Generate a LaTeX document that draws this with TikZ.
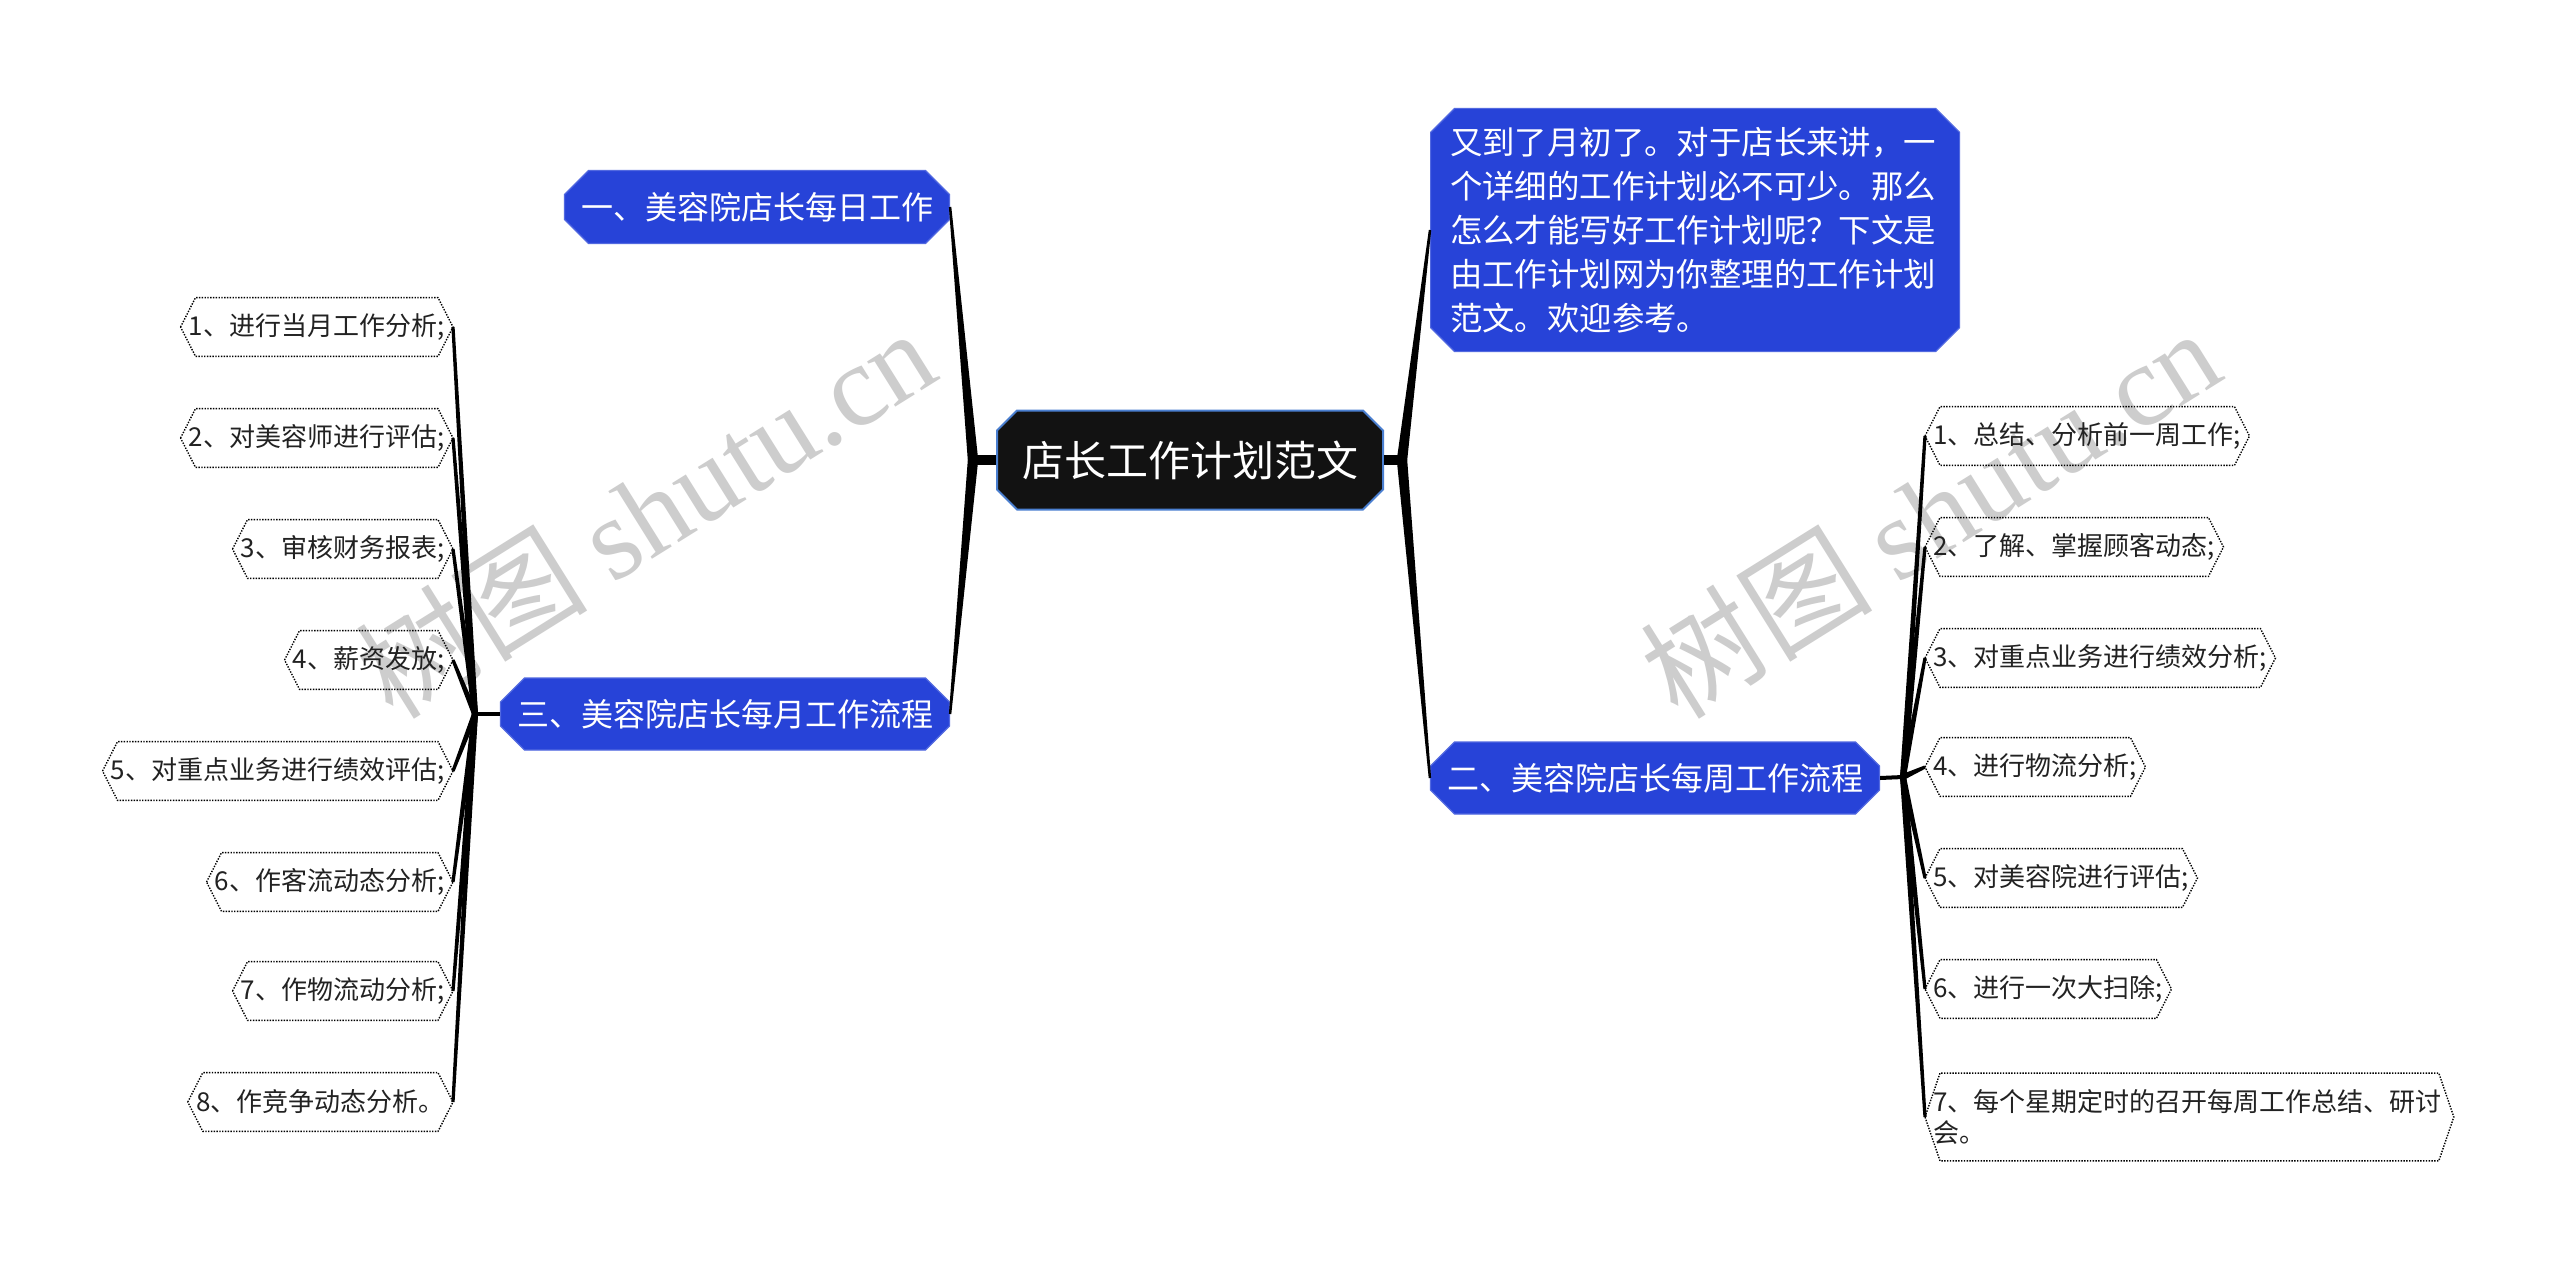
\documentclass[tikz,border=0pt]{standalone}
\usepackage{fontspec}
\setmainfont{Noto Sans CJK SC}
\newfontfamily\wmserif{Liberation Serif}
\usetikzlibrary{shapes.misc,calc}
\definecolor{nodeblue}{HTML}{2743D8}
\definecolor{rootborder}{HTML}{4A7FD0}
\definecolor{wmgray}{HTML}{CDCDCD}
\definecolor{leaftext}{HTML}{222222}
\newcommand\taperline[4]{%
  \fill[black] ($(#1)!#3!90:(#2)$) -- ($(#2)!#4!-90:(#1)$) -- ($(#2)!#4!90:(#1)$) -- ($(#1)!#3!-90:(#2)$) -- cycle;}
\begin{document}
\begin{tikzpicture}[x=0.5pt,y=-0.5pt,
  rootbox/.style={chamfered rectangle, chamfered rectangle xsep=5pt, chamfered rectangle ysep=5pt,
    fill=black!93, draw=rootborder, line width=1pt, text=white,
    font=\fontsize{21}{25}\selectfont, minimum width=193pt, minimum height=49.5pt, inner sep=0pt},
  mainbox/.style={chamfered rectangle, chamfered rectangle xsep=6pt, chamfered rectangle ysep=6pt,
    fill=nodeblue, draw=nodeblue!80!white, line width=0.6pt, text=white,
    font=\fontsize{16}{19}\selectfont, inner sep=0pt},
  introbox/.style={chamfered rectangle, chamfered rectangle xsep=6pt, chamfered rectangle ysep=6pt,
    fill=nodeblue, draw=nodeblue!80!white, line width=0.6pt, text=white,
    font=\fontsize{16.2}{22}\selectfont, align=left, text width=245pt,
    inner xsep=3.75pt, minimum height=121pt},
  leaf/.style={inner xsep=0pt, inner ysep=0pt, minimum height=29pt, text=leaftext,
    font=\fontsize{13}{15.5}\selectfont},
  leafline/.style={draw=black, line width=0.7pt, dash pattern=on 0.7pt off 0.7pt},
  wm/.style={text=wmgray, font=\fontsize{58}{62}\selectfont, inner sep=0pt}
]
\useasboundingbox (0,0) rectangle (2560,1269);
\fill[white] (0,0) rectangle (2560,1269);

% watermarks
\node[wm, rotate=32] (wm1) at (645,512) {树图 {\wmserif shutu.cn}};
\node[wm, rotate=32] (wm2) at (1930,512) {树图 {\wmserif shutu.cn}};

% main nodes
\node[rootbox] (root) at (1190,460) {店长工作计划范文};
\node[mainbox, minimum width=192.5pt, minimum height=36.5pt] (b1) at (757,207) {一、美容院店长每日工作};
\node[mainbox, minimum width=224.5pt, minimum height=36pt] (b3) at (725,714) {三、美容院店长每月工作流程};
\node[mainbox, minimum width=224.5pt, minimum height=36pt] (b2) at (1655,778) {二、美容院店长每周工作流程};
\node[introbox, anchor=west] (intro) at (1430,230) {又到了月初了。对于店长来讲，一\\个详细的工作计划必不可少。那么\\怎么才能写好工作计划呢？下文是\\由工作计划网为你整理的工作计划\\范文。欢迎参考。};

% left leaves
\node[leaf, anchor=east] (l1) at (445,327) {1、进行当月工作分析;};
\node[leaf, anchor=east] (l2) at (445,438) {2、对美容师进行评估;};
\node[leaf, anchor=east] (l3) at (445,549) {3、审核财务报表;};
\node[leaf, anchor=east] (l4) at (445,660) {4、薪资发放;};
\node[leaf, anchor=east] (l5) at (445,771) {5、对重点业务进行绩效评估;};
\node[leaf, anchor=east] (l6) at (445,882) {6、作客流动态分析;};
\node[leaf, anchor=east] (l7) at (445,991) {7、作物流动分析;};
\node[leaf, anchor=east] (l8) at (445,1102) {8、作竞争动态分析。};

% right leaves
\node[leaf, anchor=west] (r1) at (1933,436) {1、总结、分析前一周工作;};
\node[leaf, anchor=west] (r2) at (1933,547) {2、了解、掌握顾客动态;};
\node[leaf, anchor=west] (r3) at (1933,658) {3、对重点业务进行绩效分析;};
\node[leaf, anchor=west] (r4) at (1933,767) {4、进行物流分析;};
\node[leaf, anchor=west] (r5) at (1933,878) {5、对美容院进行评估;};
\node[leaf, anchor=west] (r6) at (1933,989) {6、进行一次大扫除;};
\node[leaf, anchor=west, text width=256pt, align=left, minimum height=43.5pt] (r7) at (1933,1117) {7、每个星期定时的召开每周工作总结、研讨\\会。};

% leaf outlines and tips
\foreach \i in {1,...,8}{
  \draw[leafline] ([xshift=-4pt]l\i.west) -- ([xshift=3.5pt]l\i.north west) -- ([xshift=-3.5pt]l\i.north east)
    -- ([xshift=4pt]l\i.east) -- ([xshift=-3.5pt]l\i.south east) -- ([xshift=3.5pt]l\i.south west) -- cycle;
  \coordinate (lt\i) at ([xshift=4pt]l\i.east);
}
\foreach \i in {1,...,7}{
  \draw[leafline] ([xshift=-4pt]r\i.west) -- ([xshift=3.5pt]r\i.north west) -- ([xshift=-3.5pt]r\i.north east)
    -- ([xshift=4pt]r\i.east) -- ([xshift=-3.5pt]r\i.south east) -- ([xshift=3.5pt]r\i.south west) -- cycle;
  \coordinate (rt\i) at ([xshift=-4pt]r\i.west);
}

% junctions
\coordinate (jl) at (973,460);
\coordinate (jr) at (1402,460);
\coordinate (j3) at (475,714);
\coordinate (j2) at (1903,777);

% connectors
\draw[line width=5pt] (root.west) -- (jl);
\taperline{jl}{b1.east}{2.6pt}{0.6pt}
\taperline{jl}{b3.east}{2.6pt}{0.6pt}
\draw[line width=5pt] (root.east) -- (jr);
\taperline{jr}{intro.west}{2.6pt}{0.6pt}
\taperline{jr}{b2.west}{2.6pt}{0.6pt}
\draw[line width=2pt] (b3.west) -- (j3);
\foreach \i in {1,...,8}{\taperline{j3}{lt\i}{1.5pt}{0.8pt}}
\draw[line width=2pt] (b2.east) -- (j2);
\foreach \i in {1,...,7}{\taperline{j2}{rt\i}{1.5pt}{0.8pt}}
\end{tikzpicture}
\end{document}
